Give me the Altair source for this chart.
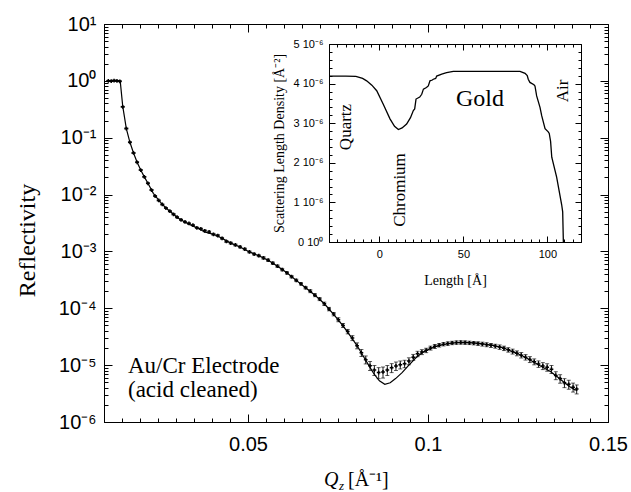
import altair as alt
import pandas as pd

# ---------------- data ----------------
q_meas = [
    0.0112, 0.0120, 0.0128, 0.0136, 0.0144, 0.0152, 0.0162, 0.0172, 0.0182, 0.0192,
    0.0202, 0.0212, 0.0222, 0.0232, 0.0242, 0.0252, 0.0262, 0.0272, 0.0283, 0.0293,
    0.0303, 0.0314, 0.0325, 0.0336, 0.0347, 0.0358, 0.0369, 0.0380, 0.0392, 0.0404,
    0.0416, 0.0428, 0.0440, 0.0452, 0.0465, 0.0478, 0.0491, 0.0504, 0.0517, 0.0530,
    0.0543, 0.0556, 0.0569, 0.0582, 0.0595, 0.0608, 0.0621, 0.0634, 0.0647, 0.0660,
    0.0673, 0.0686, 0.0699, 0.0712, 0.0725, 0.0738, 0.0751, 0.0764, 0.0777, 0.0790,
    0.0803, 0.0815, 0.0827, 0.0839, 0.0851, 0.0863, 0.0875, 0.0887, 0.0899, 0.0911,
    0.0923, 0.0935, 0.0947, 0.0959, 0.0971, 0.0983, 0.0995, 0.1007, 0.1019, 0.1031,
    0.1043, 0.1055, 0.1067, 0.1079, 0.1091, 0.1103, 0.1115, 0.1127, 0.1139, 0.1151,
    0.1163, 0.1175, 0.1187, 0.1199, 0.1211, 0.1223, 0.1235, 0.1247, 0.1259, 0.1271,
    0.1283, 0.1295, 0.1307, 0.1319, 0.1331, 0.1343, 0.1355, 0.1367, 0.1379, 0.1391,
    0.1403, 0.1413,
]
r_meas = [
    1.00, 0.99, 1.01, 1.00, 0.98, 0.35, 0.145, 0.083, 0.054, 0.037,
    0.027, 0.0205, 0.0158, 0.0120, 0.0094, 0.0079, 0.0067, 0.0058, 0.0051, 0.0045,
    0.0040, 0.0036, 0.0033, 0.0031, 0.0029, 0.0026, 0.0025, 0.0023, 0.0022, 0.0020,
    0.0019, 0.0017, 0.0015, 0.0014, 0.0013, 0.0012, 0.0011, 0.00098, 0.00090, 0.00084,
    0.00077, 0.00070, 0.00062, 0.00055, 0.00048, 0.00042, 0.00036, 0.00031, 0.00027, 0.00023,
    0.00020, 0.00017, 0.000145, 0.000120, 0.000097, 0.000079, 0.000063, 0.000050, 0.000039, 0.000030,
    2.2e-5, 1.65e-5, 1.25e-5, 9.8e-6, 8.2e-6, 7.4e-6, 7.6e-6, 8.2e-6, 9.0e-6, 9.7e-6,
    1.02e-5, 1.06e-5, 1.18e-5, 1.38e-5, 1.58e-5, 1.70e-5, 1.82e-5, 2.00e-5, 2.14e-5, 2.24e-5,
    2.34e-5, 2.40e-5, 2.46e-5, 2.50e-5, 2.51e-5, 2.50e-5, 2.47e-5, 2.44e-5, 2.40e-5, 2.35e-5,
    2.29e-5, 2.23e-5, 2.16e-5, 2.08e-5, 1.98e-5, 1.86e-5, 1.74e-5, 1.62e-5, 1.50e-5, 1.38e-5,
    1.26e-5, 1.15e-5, 1.05e-5, 9.7e-6, 9.2e-6, 8.5e-6, 6.6e-6, 5.8e-6, 4.9e-6, 4.6e-6,
    4.1e-6, 3.8e-6,
]
rel_err = [
    0.02, 0.02, 0.02, 0.02, 0.02, 0.02, 0.02, 0.02, 0.02, 0.02,
    0.02, 0.02, 0.02, 0.02, 0.02, 0.02, 0.02, 0.02, 0.03, 0.03,
    0.03, 0.03, 0.03, 0.03, 0.03, 0.03, 0.03, 0.04, 0.04, 0.04,
    0.04, 0.04, 0.04, 0.04, 0.04, 0.04, 0.04, 0.04, 0.04, 0.04,
    0.05, 0.05, 0.05, 0.05, 0.05, 0.05, 0.05, 0.05, 0.05, 0.05,
    0.06, 0.06, 0.06, 0.07, 0.07, 0.07, 0.08, 0.08, 0.09, 0.10,
    0.12, 0.14, 0.16, 0.18, 0.20, 0.22, 0.22, 0.20, 0.18, 0.17,
    0.16, 0.15, 0.14, 0.12, 0.11, 0.10, 0.09, 0.08, 0.08, 0.07,
    0.07, 0.07, 0.07, 0.07, 0.07, 0.07, 0.07, 0.07, 0.07, 0.08,
    0.08, 0.08, 0.08, 0.09, 0.09, 0.09, 0.10, 0.10, 0.11, 0.11,
    0.12, 0.12, 0.13, 0.14, 0.15, 0.16, 0.16, 0.17, 0.18, 0.18,
    0.18, 0.18,
]
q_fit = [
    0.0110, 0.0145, 0.0152, 0.0162, 0.0172, 0.0182, 0.0192, 0.0202, 0.0212, 0.0222,
    0.0237, 0.0257, 0.0272, 0.0285, 0.0303, 0.0313, 0.0336, 0.0358, 0.0380, 0.0404,
    0.0428, 0.0452, 0.0478, 0.0504, 0.0530, 0.0556, 0.0582, 0.0608, 0.0634, 0.0660,
    0.0686, 0.0712, 0.0738, 0.0764, 0.0790, 0.0807, 0.0822, 0.0835, 0.0850, 0.0865,
    0.0880, 0.0895, 0.0910, 0.0928, 0.0945, 0.0965, 0.0985, 0.1012, 0.1035, 0.1060,
    0.1080, 0.1102, 0.1125, 0.1152, 0.1180, 0.1210, 0.1245, 0.1270, 0.1292, 0.1315,
    0.1340, 0.1360, 0.1376, 0.1393, 0.1410,
]
r_fit = [
    1.0, 1.0, 0.36, 0.145, 0.083, 0.054, 0.037, 0.027, 0.0205, 0.0158,
    0.0105, 0.0073, 0.0058, 0.0050, 0.0040, 0.0036, 0.0030, 0.0026, 0.0022, 0.0020,
    0.0017, 0.0014, 0.0012, 0.00098, 0.00084, 0.00070, 0.00055, 0.00042, 0.00031, 0.00023,
    0.00017, 0.000120, 0.000078, 0.000049, 0.000029, 2.00e-5, 1.38e-5, 1.00e-5, 7.0e-6, 5.3e-6,
    4.6e-6, 4.9e-6, 5.8e-6, 7.4e-6, 9.7e-6, 1.32e-5, 1.68e-5, 2.02e-5, 2.25e-5, 2.40e-5,
    2.48e-5, 2.51e-5, 2.46e-5, 2.36e-5, 2.22e-5, 2.00e-5, 1.63e-5, 1.38e-5, 1.15e-5, 9.5e-6,
    7.7e-6, 6.2e-6, 5.1e-6, 4.2e-6, 3.6e-6,
]
depth_A = [
    -30, -20, -14, -10, -7.6, -4.5, -1.6, 2.3, 6.3, 9.0,
    11.3, 13.5, 16.2, 18.5, 20.2, 21.0, 21.8, 24.0, 25.2, 26.2,
    28.0, 29.1, 30.1, 31.5, 32.1, 33.5, 34.1, 37.1, 40.0, 44.0,
    60.0, 83.7, 86.7, 88.0, 88.6, 89.6, 92.0, 92.6, 93.6, 95.6,
    96.6, 98.6, 100.5, 101.1, 101.9, 102.6, 105.5, 108.5, 109.1, 109.5,
]
sld_e6 = [
    4.19, 4.19, 4.18, 4.13, 4.07, 3.96, 3.82, 3.48, 3.11, 2.92,
    2.84, 2.88, 2.98, 3.14, 3.32, 3.36, 3.61, 3.66, 3.73, 3.86,
    3.90, 3.94, 4.07, 4.09, 4.11, 4.13, 4.19, 4.24, 4.28, 4.31,
    4.31, 4.31, 4.26, 4.20, 4.11, 4.03, 3.97, 3.94, 3.69, 3.40,
    3.19, 2.86, 2.78, 2.74, 2.54, 2.14, 1.64, 0.94, 0.76, 0.00,
]

# tick positions / labels
x_major = [0.05, 0.1, 0.15]
x_minor = [round(0.01 + 0.005 * i, 4) for i in range(29)]
y_decades = [1e-6, 1e-5, 1e-4, 1e-3, 1e-2, 1e-1, 1.0, 10.0]
y_minor = [m * d for d in y_decades[:-1] for m in range(1, 10)] + [10.0]
in_x_major = [0, 50, 100]
in_x_minor = list(range(-30, 121, 5))
in_y_major = [0, 1e-6, 2e-6, 3e-6, 4e-6, 5e-6]
in_y_minor = [i * 0.2e-6 for i in range(26)]

# ---------------- layout ----------------
W, H = 504, 398
SANS = "Liberation Sans"
SERIF = "Liberation Serif"
IN_L, IN_R, IN_T, IN_B = 225, 477, 20, 218

SUP = {"-": "\u207b", "0": "\u2070", "1": "\u00b9", "2": "\u00b2", "3": "\u00b3",
       "4": "\u2074", "5": "\u2075", "6": "\u2076", "7": "\u2077", "8": "\u2078", "9": "\u2079"}
parts = []
for e in range(-6, 2):
    lab = "10" + "".join(SUP[c] for c in str(e))
    parts.append(f"abs(log(datum.value)/LN10 - ({e})) < 0.01 ? '{lab}'")
y_label_expr = " : ".join(parts) + " : ''"
in_y_label_expr = ("datum.value == 0 ? '0 10\u2070' : format(datum.value*1e6, '.0f') + ' 10\u207b\u2076'")
x_label_expr = "format(datum.value, '.2~f')"

X_MAJ = "abs(datum.value*20 - round(datum.value*20)) < 0.001"
Y_MAJ = "abs(log(datum.value)/LN10 - round(log(datum.value)/LN10)) < 0.001"
IX_MAJ = "abs(datum.value/50 - round(datum.value/50)) < 0.001"
IY_MAJ = "abs(datum.value*1e6 - round(datum.value*1e6)) < 0.001"

df_meas = pd.DataFrame({"Q": q_meas, "R": r_meas, "e": rel_err})
df_meas["lo"] = df_meas["R"] * (1 - df_meas["e"])
df_meas["hi"] = df_meas["R"] * (1 + df_meas["e"])
df_fit = pd.DataFrame({"Q": q_fit, "R": r_fit})
df_sld = pd.DataFrame({"L": depth_A, "SLD": [v * 1e-6 for v in sld_e6]})

xs_main = alt.Scale(domain=[0.01, 0.15], nice=False, zero=False)
ys_main = alt.Scale(type="log", domain=[1e-6, 10], nice=False)
xs_in = alt.Scale(domain=[-30, 120], range=[IN_L, IN_R], nice=False, zero=False)
ys_in = alt.Scale(domain=[0, 5e-6], range=[IN_B, IN_T], nice=False, zero=False)


def tick_axis(orient, offset, values, test, major, minor):
    return alt.Axis(orient=orient, offset=offset, values=values, labels=False, title=None,
                    grid=False, domain=True, domainColor="black", domainWidth=1,
                    ticks=True, tickColor="black", tickWidth=1,
                    tickSize={"condition": {"test": test, "value": major}, "value": minor})


# ---------------- main reflectivity panel ----------------
fit = alt.Chart(df_fit).mark_line(color="black", strokeWidth=1.2).encode(
    x=alt.X("Q:Q", scale=xs_main, axis=alt.Axis(
        orient="bottom", values=x_major, labelExpr=x_label_expr, ticks=False, grid=False,
        domainColor="black", labelFont=SANS, labelFontSize=20, labelColor="black",
        labelPadding=12, labelFlush=False, labelOverlap=False, title=None)),
    y=alt.Y("R:Q", scale=ys_main, axis=alt.Axis(
        orient="left", values=y_decades, labelExpr=y_label_expr, ticks=False, grid=False,
        domainColor="black", labelFont=SANS, labelFontSize=20, labelColor="black",
        labelPadding=8, labelFlush=False, labelOverlap=False,
        title="Reflectivity", titleFont=SERIF, titleFontSize=24, titleFontWeight="normal",
        titleColor="black", titleX=-77, titleY=216, titleAngle=270,
        titleAlign="center", titleBaseline="middle")),
)

pts = alt.Chart(df_meas).mark_point(shape="cross", filled=True, size=14, color="black",
                                     opacity=1).encode(
    x=alt.X("Q:Q", scale=xs_main, axis=tick_axis("top", -H, x_minor, X_MAJ, 8, 4)),
    y=alt.Y("R:Q", scale=ys_main, axis=tick_axis("right", -W, y_minor, Y_MAJ, 8, 4)),
)

ebar = alt.Chart(df_meas).mark_errorbar(ticks={"size": 4}, color="black", thickness=0.9).encode(
    x=alt.X("Q:Q", scale=xs_main, axis=tick_axis("bottom", -H, x_minor, X_MAJ, 8, 4)),
    y=alt.Y("lo:Q", scale=ys_main, axis=tick_axis("left", -W, y_minor, Y_MAJ, 8, 4)),
    y2="hi:Q",
)

# ---------------- inset SLD panel ----------------
in1 = alt.Chart(df_sld).mark_line(color="black", strokeWidth=1.3).encode(
    x=alt.X("L:Q", scale=xs_in, axis=alt.Axis(
        orient="bottom", offset=-(H - IN_B), values=in_x_major, ticks=False, grid=False,
        domainColor="black", labelFont=SANS, labelFontSize=11, labelColor="black",
        labelPadding=6, labelFlush=False,
        title="Length [\u00c5]", titleFont=SERIF, titleFontSize=14, titleFontWeight="normal",
        titleColor="black", titleX=351, titleY=38, titleAlign="center", titleBaseline="middle")),
    y=alt.Y("SLD:Q", scale=ys_in, axis=alt.Axis(
        orient="left", offset=-IN_L, values=in_y_major, labelExpr=in_y_label_expr,
        ticks=False, grid=False, domainColor="black", labelFont=SANS, labelFontSize=11,
        labelColor="black", labelPadding=6, labelFlush=False, labelOverlap=False,
        title="Scattering Length Density [\u00c5\u207b\u00b2]", titleFont=SERIF,
        titleFontSize=14, titleFontWeight="normal", titleColor="black",
        titleX=-50, titleY=(IN_T + IN_B) / 2, titleAngle=270,
        titleAlign="center", titleBaseline="middle")),
)
in2 = alt.Chart(df_sld).mark_line(strokeOpacity=0).encode(
    x=alt.X("L:Q", scale=xs_in, axis=tick_axis("top", -IN_B, in_x_minor, IX_MAJ, 6, 3)),
    y=alt.Y("SLD:Q", scale=ys_in, axis=tick_axis("right", IN_L - W, in_y_minor, IY_MAJ, 6, 3)),
)
in3 = alt.Chart(df_sld).mark_line(strokeOpacity=0).encode(
    x=alt.X("L:Q", scale=xs_in, axis=tick_axis("bottom", IN_T - H, in_x_minor, IX_MAJ, 6, 3)),
    y=alt.Y("SLD:Q", scale=ys_in, axis=tick_axis("left", -IN_R, in_y_minor, IY_MAJ, 6, 3)),
)

ONE = pd.DataFrame({"k": [0]})


def txt(text, x, y, size, font=SERIF, angle=0, style="normal", align="center",
        baseline="middle"):
    return alt.Chart(ONE).mark_text(
        text=text, font=font, fontSize=size, fontStyle=style, angle=angle,
        align=align, baseline=baseline, color="black",
    ).encode(x=alt.value(x), y=alt.value(y))


annotations = [
    txt("Au/Cr Electrode", 24, 349, 23, align="left", baseline="alphabetic"),
    txt("(acid cleaned)", 24, 373, 23, align="left", baseline="alphabetic"),
    txt("Quartz", 242, 103, 17, angle=270),
    txt("Chromium", 296, 166, 17, angle=270),
    txt("Gold", 376, 75, 24),
    txt("Air", 459, 67, 17, angle=270),
    # x-axis title: Q_z [Å^-1]
    txt("Q", 220, 462, 20, style="italic", align="left", baseline="alphabetic"),
    txt("z", 235, 466, 13, style="italic", align="left", baseline="alphabetic"),
    txt("[\u00c5\u207b\u00b9]", 244, 462, 20, align="left", baseline="alphabetic"),
]

chart = alt.layer(fit, ebar, pts, in1, in2, in3, *annotations).resolve_scale(
    x="independent", y="independent"
).resolve_axis(
    x="independent", y="independent"
).properties(
    width=W, height=H,
    padding={"left": 104, "top": 24, "right": 23, "bottom": 70},
    autosize=alt.AutoSizeParams(type="none"),
    background="white",
).configure_view(stroke=None)

chart.save("out.html", embed_options={"renderer": "svg", "actions": False})
